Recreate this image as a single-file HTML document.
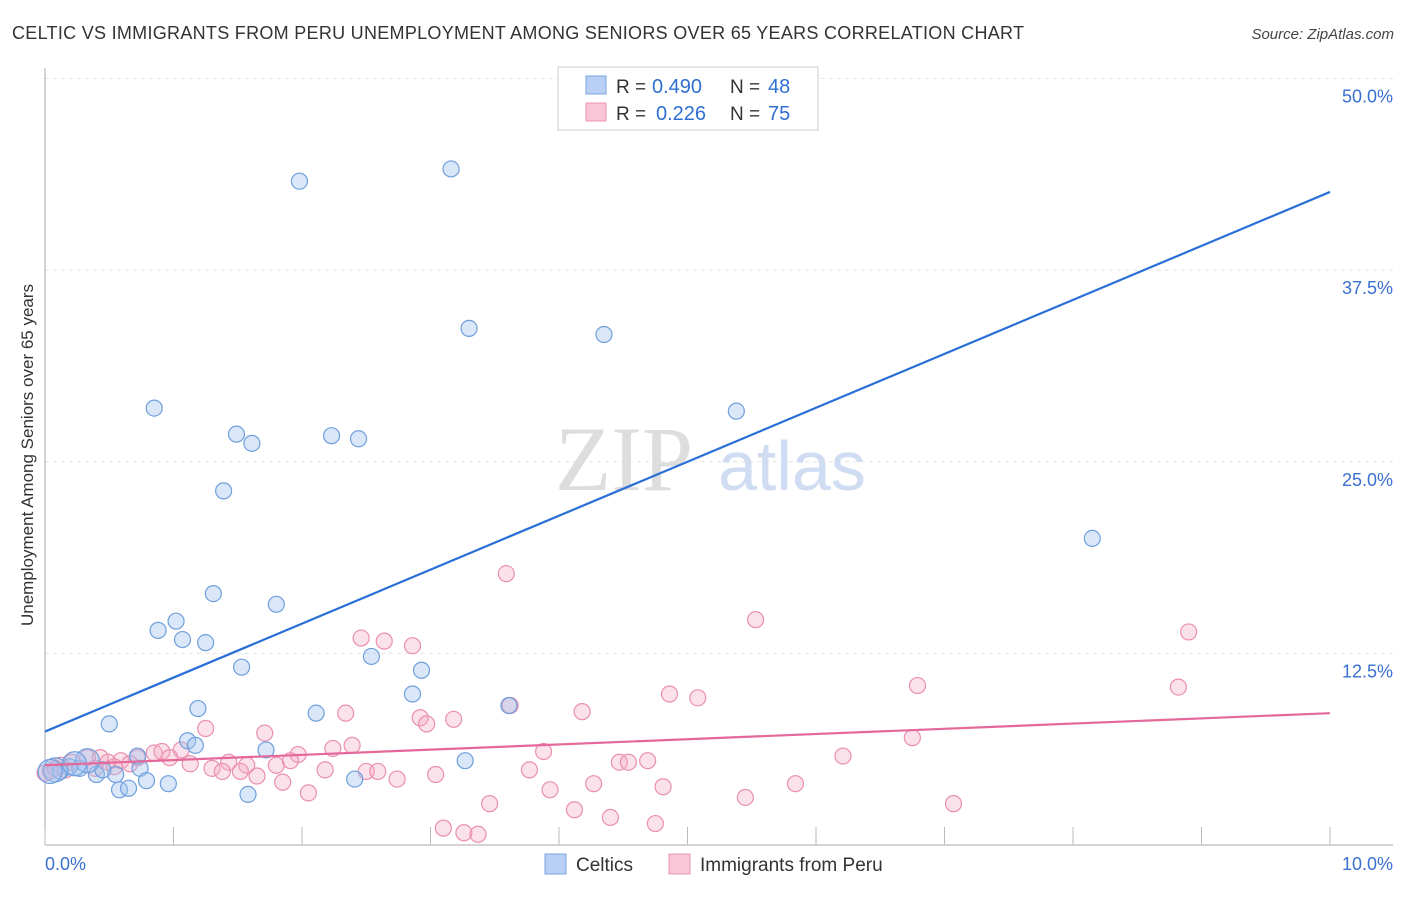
<!DOCTYPE html>
<html><head><meta charset="utf-8">
<style>
body{margin:0;background:#fff;font-family:"Liberation Sans",sans-serif;}
svg text{font-family:"Liberation Sans",sans-serif;}
</style></head>
<body>
<svg id="chart" width="1406" height="892" xmlns="http://www.w3.org/2000/svg">
<text x="12" y="39" font-size="18" fill="#333" textLength="1012">CELTIC VS IMMIGRANTS FROM PERU UNEMPLOYMENT AMONG SENIORS OVER 65 YEARS CORRELATION CHART</text>
<text x="1394" y="39" font-size="15" fill="#444" text-anchor="end" font-style="italic">Source: ZipAtlas.com</text>
<g id="grid"></g>
<text x="555" y="490" font-size="92" fill="#ddd" style="font-family:'Liberation Serif',serif">ZIP</text>
<text x="718" y="490" font-size="70" fill="#cfdcf2">atlas</text>
<g id="points"></g>
<g id="lines"></g>
<text transform="translate(33,455) rotate(-90)" text-anchor="middle" font-size="17" fill="#333">Unemployment Among Seniors over 65 years</text>
<g>
<rect x="558" y="67" width="260" height="63" fill="#fff" stroke="#ccc"/>
<rect x="586" y="76" width="20" height="18" fill="#b8d0f4" stroke="#7aa3e0"/>
<rect x="586" y="103" width="20" height="18" fill="#f8c6d6" stroke="#eb94b3"/>
<text x="616" y="93" font-size="19" fill="#333">R =</text>
<text x="652" y="93" font-size="20" fill="#2f6fd1">0.490</text>
<text x="730" y="93" font-size="19" fill="#333">N =</text>
<text x="768" y="93" font-size="20" fill="#2f6fd1">48</text>
<text x="616" y="120" font-size="19" fill="#333">R =</text>
<text x="656" y="120" font-size="20" fill="#2f6fd1">0.226</text>
<text x="730" y="120" font-size="19" fill="#333">N =</text>
<text x="768" y="120" font-size="20" fill="#2f6fd1">75</text>
</g>
<g>
<rect x="545" y="854" width="21" height="20" fill="#b8d0f4" stroke="#7aa3e0"/>
<text x="576" y="871" font-size="19" fill="#333">Celtics</text>
<rect x="669" y="854" width="21" height="20" fill="#f8c6d6" stroke="#eb94b3"/>
<text x="700" y="871" font-size="19" fill="#333">Immigrants from Peru</text>
</g>
</svg>
<script>
const xTicks=[0,1,2,3,4,5,6,7,8,9,10];
const yTicks=[12.5,25,37.5,50];
const yTickLabels=["12.5%","25.0%","37.5%","50.0%"];
const xLabels=["0.0%","10.0%"];
const celticsX=[1.98,3.16,3.30,4.35,0.85,5.38,1.49,1.61,2.23,2.44,1.39,8.15,1.31,1.80,1.02,0.88,1.07,1.25,2.54,1.53,2.93,2.86,0.50,1.19,2.11,3.61,1.11,1.17,1.72,0.72,0.74,3.27,2.41,1.58,0.58,0.65,0.96,0.79,0.40,0.55,0.45,0.27,0.19,0.12,0.08,0.04,0.33,0.23];
const celticsY=[43.3,44.1,33.7,33.3,28.5,28.3,26.8,26.2,26.7,26.5,23.1,20.0,16.4,15.7,14.6,14.0,13.4,13.2,12.3,11.6,11.4,9.85,7.9,8.9,8.6,9.1,6.8,6.5,6.2,5.8,5.0,5.5,4.3,3.3,3.6,3.7,4.0,4.2,4.6,4.6,4.9,5.0,5.1,4.8,4.9,4.8,5.5,5.3];
const peruX=[3.59,5.53,8.90,2.46,2.64,2.86,4.86,5.08,6.79,8.82,2.34,2.92,2.97,3.18,4.18,3.62,1.25,1.71,6.75,2.39,2.24,1.97,3.88,4.47,4.54,4.69,6.21,0.85,0.91,1.06,1.43,1.57,1.13,0.72,0.59,0.49,0.43,0.33,0.21,0.12,1.30,1.38,1.52,1.65,1.80,1.91,2.18,2.50,2.59,2.74,3.04,3.77,1.85,2.05,3.46,3.93,4.12,4.40,4.27,4.81,5.45,5.84,7.07,3.10,3.26,3.37,4.75,0.04,0.0,0.08,0.16,0.39,0.66,0.54,0.97];
const peruY=[17.7,14.7,13.9,13.5,13.3,13.0,9.85,9.6,10.4,10.3,8.6,8.3,7.9,8.2,8.7,9.1,7.6,7.3,7.0,6.5,6.3,5.9,6.1,5.4,5.4,5.5,5.8,6.0,6.1,6.2,5.4,5.2,5.3,5.7,5.5,5.4,5.7,5.7,5.4,5.2,5.0,4.8,4.8,4.5,5.2,5.5,4.9,4.8,4.8,4.3,4.6,4.9,4.1,3.4,2.7,3.6,2.3,1.8,4.0,3.8,3.1,4.0,2.7,1.1,0.8,0.7,1.4,4.8,4.7,5.0,4.9,5.0,5.3,5.1,5.7];
const blueLine=[7.4,42.6];
const pinkLine=[5.2,8.6];
const X=v=>45+v*128.5, Y=v=>845-v*15.33;
const NS="http://www.w3.org/2000/svg";
function mk(tag,attrs,parent){const e=document.createElementNS(NS,tag);for(const k in attrs)e.setAttribute(k,attrs[k]);parent.appendChild(e);return e;}
const grid=document.getElementById('grid');
yTicks.forEach((t,i)=>{
 const l=mk('line',{x1:45,x2:1393,y1:Y(t),y2:Y(t),stroke:'#e4e4e4','stroke-dasharray':'4,4'},grid);
 
 
 const tx=mk('text',{x:1393,y:Y(t)+24,'text-anchor':'end','font-size':18,fill:'#3a70d0'},grid);
 tx.textContent=yTickLabels[i];
 
 
});
const ax=mk('line',{x1:45,x2:45,y1:68,y2:845,stroke:'#aaa'},grid);


const bx=mk('line',{x1:45,x2:1393,y1:845,y2:845,stroke:'#aaa'},grid);


xTicks.forEach(t=>{
 const l=mk('line',{x1:X(t),x2:X(t),y1:827,y2:845,stroke:'#bbb'},grid);
 
 
});
[[0,'start',45],[10,'end',1393]].forEach((a,i)=>{
 const tx=mk('text',{x:a[2],y:870,'text-anchor':a[1],'font-size':18,fill:'#3a70d0'},grid);
 tx.textContent=xLabels[i];
 
 
});
const pts=document.getElementById('points');
peruX.forEach((v,i)=>{
 const c=mk('circle',{cx:X(v),cy:Y(peruY[i]),r:8,fill:'rgba(244,168,195,0.35)',stroke:'#ea8fb0','stroke-width':1.2},pts);
 
 
});
celticsX.forEach((v,i)=>{
 const c=mk('circle',{cx:X(v),cy:Y(celticsY[i]),r:(i>=44?12:8),fill:'rgba(160,194,240,0.4)',stroke:'#6f9fdc','stroke-width':1.2},pts);
 
 
});
const ln=document.getElementById('lines');
const b=mk('line',{x1:X(0),y1:Y(blueLine[0]),x2:X(10),y2:Y(blueLine[1]),stroke:'#2a6fd6','stroke-width':2.2},ln);


const p=mk('line',{x1:X(0),y1:Y(pinkLine[0]),x2:X(10),y2:Y(pinkLine[1]),stroke:'#e4689a','stroke-width':2.2},ln);


</script>
</body></html>
